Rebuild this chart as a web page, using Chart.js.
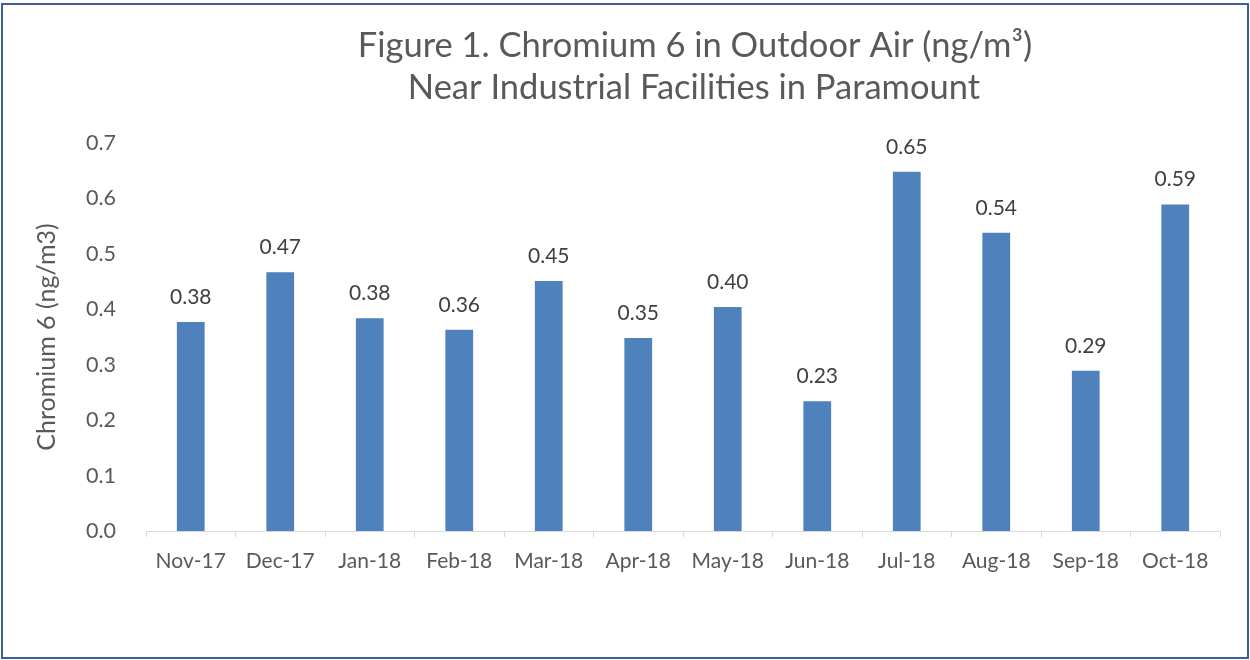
<!DOCTYPE html>
<html>
<head>
<meta charset="utf-8">
<script src="https://cdn.jsdelivr.net/npm/chart.js@4"></script>
<style>
  body { margin: 0; background: #fff; }
  #wrap { position: relative; width: 1250px; height: 660px; }
  #frame { position: absolute; left: 1px; top: 3px; width: 1244px; height: 652px; border: 2px solid #3e6193; pointer-events: none; }
</style>
</head>
<body>
<div id="wrap">
  <canvas id="myChart" width="1250" height="660"></canvas>
  <div id="frame"></div>
</div>
<script>
const months = ["Nov-17", "Dec-17", "Jan-18", "Feb-18", "Mar-18", "Apr-18", "May-18", "Jun-18", "Jul-18", "Aug-18", "Sep-18", "Oct-18"];
const chromium = [0.377, 0.467, 0.384, 0.363, 0.451, 0.348, 0.404, 0.234, 0.648, 0.538, 0.289, 0.589];
const titleLines = ["Figure 1. Chromium 6 in Outdoor Air (ng/m³)", "Near Industrial Facilities in Paramount"];
const yTitle = "Chromium 6 (ng/m3)";

const FONT = "Lato, 'Open Sans', sans-serif";

// title + value labels drawn on top of the canvas
const extras = {
	id: 'extras',
	afterDatasetsDraw(chart) {
		const ctx = chart.ctx;
		ctx.save();
		ctx.fillStyle = '#404040';
		ctx.font = '21px ' + FONT;
		ctx.textAlign = 'center';
		ctx.textBaseline = 'middle';
		chart.getDatasetMeta(0).data.forEach(function(bar, i){
			ctx.fillText(chromium[i].toFixed(2), bar.x, bar.y - 25);
		});
		ctx.fillStyle = '#595959';
		ctx.font = '34.5px ' + FONT;
		ctx.fillText(titleLines[0], 695, 46);
		ctx.fillText(titleLines[1], 694, 88);
		ctx.restore();
	}
};

var ctx = document.getElementById("myChart");
var myChart = new Chart(ctx, {
	type: 'bar',
	data: {
		labels: months,
		datasets: [{
			label: 'Chromium 6',
			data: chromium,
			backgroundColor: '#4f81bd',
			borderWidth: 0,
			categoryPercentage: 1,
			barPercentage: 0.31
		}]
	},
	options: {
		responsive: false,
		animation: false,
		layout: { padding: { top: 143, right: 30, left: 0, bottom: 0 } },
		plugins: {
			legend: { display: false },
			tooltip: { enabled: false }
		},
		scales: {
			x: {
				grid: { display: true, drawOnChartArea: false, offset: true, color: '#d9d9d9', tickLength: 6 },
				border: { display: true, color: '#d9d9d9', width: 1 },
				ticks: { color: '#595959', font: { family: FONT, size: 21 }, padding: 12, maxRotation: 0 },
				afterFit: function(s){ s.height = 129; }
			},
			y: {
				min: 0,
				max: 0.7,
				grid: { display: false },
				border: { display: false },
				ticks: {
					stepSize: 0.1,
					color: '#595959',
					font: { family: FONT, size: 21.5 },
					padding: 22,
					callback: function(v){ return v.toFixed(1); }
				},
				title: {
					display: true,
					text: yTitle,
					color: '#595959',
					font: { family: FONT, size: 25 },
					padding: { top: 32, bottom: 0 }
				},
				afterFit: function(s){ s.width = 146; }
			}
		}
	},
	plugins: [extras]
});
</script>
</body>
</html>
